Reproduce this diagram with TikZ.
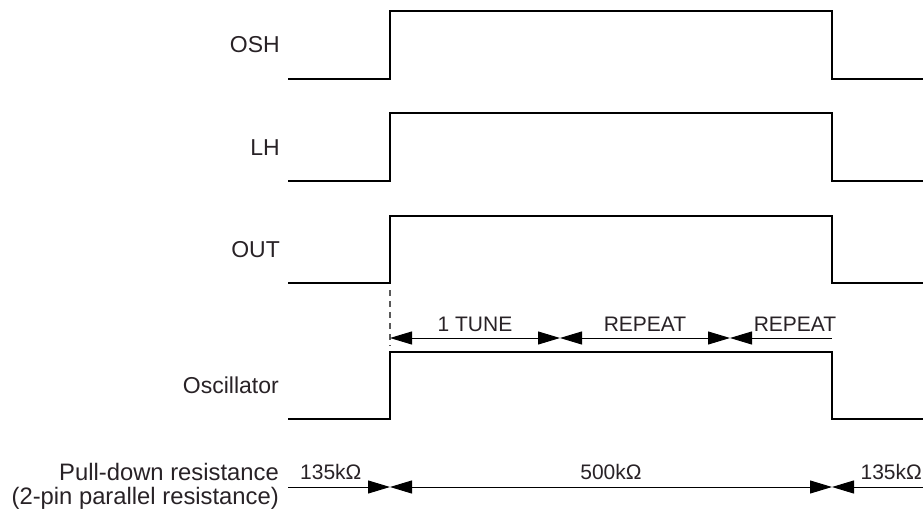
\documentclass[tikz,border=0pt]{standalone}
\usepackage{fontspec}
\setmainfont{Liberation Sans}
\usetikzlibrary{arrows.meta}
\definecolor{txt}{RGB}{40,34,38}
\begin{document}
\begin{tikzpicture}[x=1pt,y=-1pt,
  sig/.style={line width=1.6pt, line join=miter, black},
  dim/.style={line width=1pt, black},
  tipR/.style={-{Triangle[length=22pt,width=13pt]}},
  tipL/.style={{Triangle[length=22pt,width=13pt]}-},
  tipLR/.style={{Triangle[length=22pt,width=13pt]}-{Triangle[length=22pt,width=13pt]}},
  lbl/.style={font=\fontsize{23}{27}\selectfont, text=txt, inner sep=0pt},
  plbl/.style={font=\fontsize{23.8}{28}\selectfont, text=txt, inner sep=0pt},
  vlbl/.style={font=\fontsize{21}{25}\selectfont, text=txt, inner sep=0pt}]
\useasboundingbox (0,0) rectangle (923,516);

% signal levels
\foreach \n/\lo/\hi in {osh/79/11, lh/181/113, out/283/216, osc/419/352}{
  \coordinate (\n A) at (288,\lo);
  \coordinate (\n B) at (390,\lo);
  \coordinate (\n C) at (390,\hi);
  \coordinate (\n D) at (832,\hi);
  \coordinate (\n E) at (832,\lo);
  \coordinate (\n F) at (923,\lo);
}
\draw[sig] (oshA) -- (oshB) -- (oshC) -- (oshD) -- (oshE) -- (oshF);
\draw[sig] (lhA) -- (lhB) -- (lhC) -- (lhD) -- (lhE) -- (lhF);
\draw[sig] (outA) -- (outB) -- (outC) -- (outD) -- (outE) -- (outF);
\draw[sig] (oscA) -- (oscB) -- (oscC) -- (oscD) -- (oscE) -- (oscF);

% signal names
\node[lbl, anchor=base east] (nosh) at (280,53) {OSH};
\node[lbl, anchor=base east] (nlh) at (280,155) {LH};
\node[lbl, anchor=base east] (nout) at (280,257) {OUT};
\node[lbl, anchor=base east] (nosc) at (279,393) {Oscillator};
\node[plbl, anchor=base east] (npd) at (279,480) {Pull-down resistance};
\node[plbl, anchor=base east] (npd2) at (279,504) {(2-pin parallel resistance)};

% dashed marker
\coordinate (d0) at (390,290);
\coordinate (d1) at (390,346);
\draw[black!65, line width=1.3pt, dash pattern=on 6pt off 5pt] (d0) -- (d1);

% tune arrows
\coordinate (t0) at (390,338);
\coordinate (t1) at (560,338);
\coordinate (t2) at (730,338);
\coordinate (t3) at (832,338);
\draw[dim, tipLR] (t0) -- (t1);
\draw[dim, tipLR] (t1) -- (t2);
\draw[dim, tipL] (t2) -- (t3);
\node[vlbl, anchor=base] (l1) at (475,331) {1 TUNE};
\node[vlbl, anchor=base] (l2) at (645,331) {REPEAT};
\node[vlbl, anchor=base] (l3) at (795,331) {REPEAT};

% pull-down arrows
\coordinate (p0) at (288,487);
\coordinate (p1) at (390,487);
\coordinate (p2) at (832,487);
\coordinate (p3) at (923,487);
\draw[dim, tipR] (p0) -- (p1);
\draw[dim, tipLR] (p1) -- (p2);
\draw[dim, tipL] (p2) -- (p3);
\node[vlbl, anchor=base west] (r1) at (300,479) {135kΩ};
\node[vlbl, anchor=base] (r2) at (611,479) {500kΩ};
\node[vlbl, anchor=base east] (r3) at (922,479) {135kΩ};
\end{tikzpicture}
\end{document}
